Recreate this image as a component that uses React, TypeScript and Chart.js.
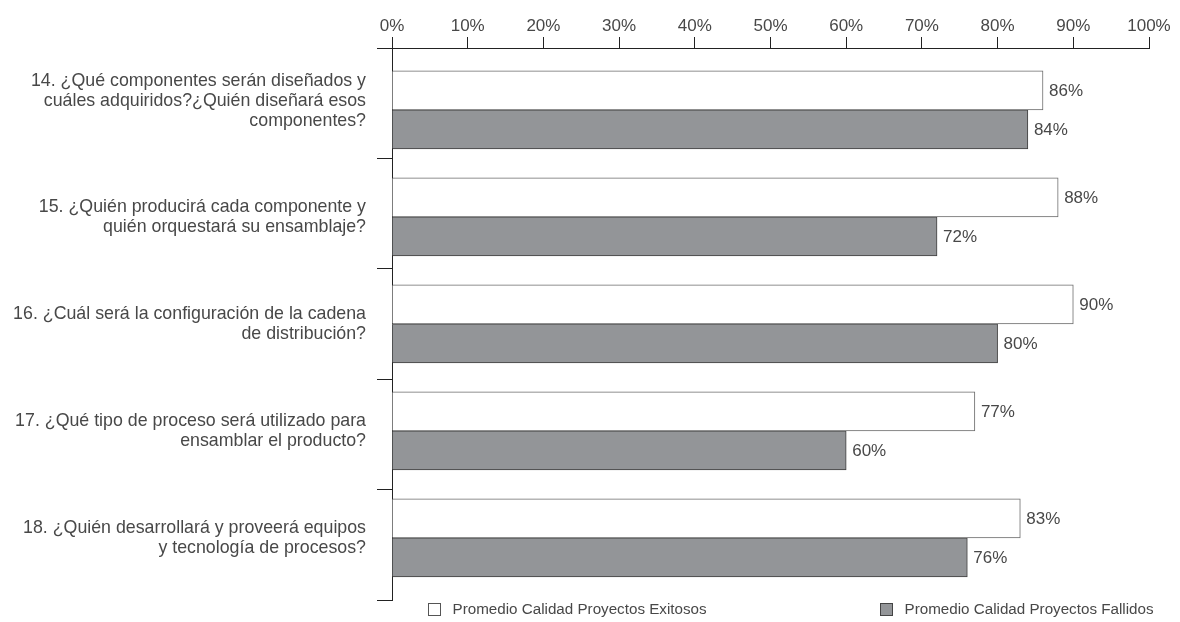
import { useEffect, useRef } from "react";
import { Chart, registerables } from "chart.js";

Chart.register(...registerables);

const categories: string[][] = [
  ["14. ¿Qué componentes serán diseñados y", "cuáles adquiridos?¿Quién diseñará esos", "componentes?"],
  ["15. ¿Quién producirá cada componente y", "quién orquestará su ensamblaje?"],
  ["16. ¿Cuál será la configuración de la cadena", "de distribución?"],
  ["17. ¿Qué tipo de proceso será utilizado para", "ensamblar el producto?"],
  ["18. ¿Quién desarrollará y proveerá equipos", "y tecnología de procesos?"],
];
const seriesNames = ["Promedio Calidad Proyectos Exitosos", "Promedio Calidad Proyectos Fallidos"];
const exitosos = [86, 88, 90, 77, 83];
const fallidos = [84, 72, 80, 60, 76];

const FONT = "'Liberation Sans', Arial, Helvetica, sans-serif";
const TEXT = "#484848";
const LINE = "#222222";
const WHITE_FILL = "#ffffff";
const WHITE_BORDER = "#6a6a6a";
const GRAY_FILL = "#939598";
const GRAY_BORDER = "#3e3e3e";
const YB_MIN = -0.579;
const YB_MAX = 4.58;

const valueLabels = {
  id: "valueLabels",
  afterDatasetsDraw(chart: any) {
    const ctx = chart.ctx;
    ctx.save();
    ctx.font = `17px ${FONT}`;
    ctx.fillStyle = TEXT;
    ctx.textAlign = "left";
    ctx.textBaseline = "middle";
    chart.data.datasets.forEach((ds: any, di: number) => {
      const meta = chart.getDatasetMeta(di);
      meta.data.forEach((el: any, i: number) => {
        const v = ds.data[i].x;
        ctx.fillText(`${v}%`, el.x + 6, el.y + 1);
      });
    });
    ctx.restore();
  },
};

const customLegend = {
  id: "customLegend",
  afterDraw(chart: any) {
    const ctx = chart.ctx;
    const left = chart.chartArea.left;
    const offsets = [36, 488];
    const yc = chart.chartArea.bottom + 9;
    ctx.save();
    ctx.font = `15.2px ${FONT}`;
    ctx.textBaseline = "middle";
    ctx.textAlign = "left";
    chart.data.datasets.forEach((ds: any, i: number) => {
      const bx = Math.round(left + offsets[i]) + 0.5;
      const by = Math.round(yc - 6.5) + 0.5;
      ctx.fillStyle = ds.backgroundColor;
      ctx.fillRect(bx, by, 12, 12);
      ctx.strokeStyle = i === 0 ? "#555" : "#444";
      ctx.lineWidth = 1;
      ctx.strokeRect(bx, by, 12, 12);
      ctx.fillStyle = TEXT;
      ctx.fillText(ds.label, bx + 24, yc + 1);
    });
    ctx.restore();
  },
};

export default function App() {
  const ref = useRef<HTMLCanvasElement | null>(null);

  useEffect(() => {
    if (!ref.current) return;
    const chart = new Chart(ref.current, {
      type: "bar",
      data: {
        labels: categories,
        datasets: [
          {
            label: seriesNames[0],
            data: exitosos.map((v, i) => ({ x: v, y: i })),
            backgroundColor: WHITE_FILL,
            borderColor: WHITE_BORDER,
            borderWidth: 1,
            barThickness: 39,
            yAxisID: "yb",
            xAxisID: "x",
          },
          {
            label: seriesNames[1],
            data: fallidos.map((v, i) => ({ x: v, y: i })),
            backgroundColor: GRAY_FILL,
            borderColor: GRAY_BORDER,
            borderWidth: 1,
            barThickness: 39,
            yAxisID: "yb",
            xAxisID: "x",
          },
        ],
      } as any,
      options: {
        indexAxis: "y",
        animation: false,
        responsive: true,
        maintainAspectRatio: false,
        layout: { padding: { left: 0, right: 23, top: 0, bottom: 22 } },
        plugins: {
          legend: { display: false },
          tooltip: { enabled: false },
        },
        scales: {
          x: {
            type: "linear",
            position: "top",
            min: 0,
            max: 100,
            grid: { drawOnChartArea: false, tickLength: 11, color: LINE, lineWidth: 1 },
            border: { color: LINE, width: 1 },
            ticks: {
              stepSize: 10,
              padding: 0,
              color: TEXT,
              font: { family: FONT, size: 17, lineHeight: 1.2 },
              callback: (v: any) => `${v}%`,
            },
            afterFit: (s: any) => {
              s.height = 40;
              s.paddingLeft = 0;
              s.paddingRight = 0;
            },
          },
          y: {
            type: "category",
            position: "left",
            weight: 0,
            offset: true,
            grid: { offset: true, drawOnChartArea: false, tickLength: 15, color: LINE, lineWidth: 1 },
            border: { color: LINE, width: 1 },
            ticks: {
              padding: 0,
              autoSkip: false,
              callback: () => "",
            },
            afterFit: (s: any) => {
              s.width = 0;
              s.paddingTop = 0;
              s.paddingBottom = 0;
            },
          },
          yb: {
            type: "linear",
            axis: "y",
            position: "left",
            weight: 1,
            display: true,
            reverse: true,
            offset: false,
            bounds: "data",
            min: YB_MIN,
            max: YB_MAX,
            grid: { display: false, drawTicks: false, drawOnChartArea: false, offset: false },
            border: { display: false },
            ticks: {
              padding: 26,
              color: TEXT,
              autoSkip: false,
              font: { family: FONT, size: 17.8, lineHeight: 1.12 },
              callback: (_v: any, index: number) => categories[index] ?? "",
            },
            afterBuildTicks: (s: any) => {
              s.min = YB_MIN;
              s.max = YB_MAX;
              // labels with more than two lines sit a little higher, as in the original layout
              s.ticks = categories.map((lines, i) => ({ value: i - Math.max(0, lines.length - 2) * 0.08 }));
            },
            afterFit: (s: any) => {
              s.width = 384;
              s.paddingTop = 0;
              s.paddingBottom = 0;
            },
          },
        },
      } as any,
      plugins: [valueLabels, customLegend],
    });
    return () => chart.destroy();
  }, []);

  return (
    <div style={{ position: "relative", width: 1164, height: 614 }}>
      <canvas ref={ref} />
    </div>
  );
}
